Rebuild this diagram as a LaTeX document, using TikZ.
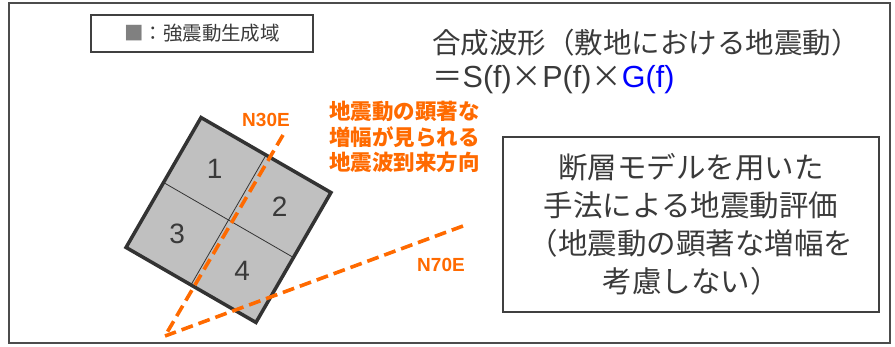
\documentclass[tikz,border=0pt]{standalone}
\usepackage{fontspec}
\setmainfont{Liberation Sans}
\newfontfamily\jpfont{Noto Sans CJK JP}
\usepackage{tikz}
\usetikzlibrary{positioning,calc}

\definecolor{quakeorange}{HTML}{FF6A00}
\definecolor{zonegray}{HTML}{C0C0C0}
\definecolor{edgegray}{HTML}{333333}
\definecolor{textgray}{HTML}{3A3A3A}

\begin{document}
\begin{tikzpicture}[x=1pt,y=-1pt]

  \tikzstyle{frame}=[draw=black!70,line width=1.6pt]
  \tikzstyle{textbox}=[draw=black!75,line width=1.4pt,inner sep=0pt]
  \tikzstyle{zone}=[draw=edgegray,fill=zonegray,line width=3.5pt,line join=miter]
  \tikzstyle{divider}=[draw=edgegray,line width=0.8pt]
  \tikzstyle{number}=[text=textgray,font=\fontsize{28}{28}\selectfont]
  \tikzstyle{direction}=[draw=quakeorange,line width=3.6pt,dash pattern=on 12pt off 6pt]
  \tikzstyle{dirlabel}=[text=quakeorange,font=\bfseries\fontsize{19}{19}\selectfont]

  \useasboundingbox (0,0) rectangle (895,347);
  \draw [frame] (9,3) rectangle (890,343);

  % legend and formula
  \node [textbox,minimum width=222pt,minimum height=37pt,text=textgray,
         font=\jpfont\fontsize{19.5}{20}\selectfont] (legend) at (202,33.5)
    {\textcolor{black!50}{■}：強震動生成域};
  \node [anchor=west,text=textgray,inner sep=0pt,
         font=\jpfont\fontsize{28.5}{30}\selectfont] (title) at (432,43)
    {合成波形（敷地における地震動）};
  \node [anchor=west,text=textgray,inner sep=0pt,
         font=\fontsize{30.5}{32}\selectfont] (formula) at (432,80)
    {{\jpfont ＝}S(f){\jpfont ×}P(f){\jpfont ×}\textcolor{blue}{G(f)}};

  % fault model
  \begin{scope}[shift={(228.5,220)},rotate=-30]
    \draw [zone] (-75,-75) rectangle (75,75);
    \draw [divider] (-75,0) -- (75,0);
    \draw [divider] (0,-75) -- (0,75);
    \node [number] (n1) at (-37.5,-37.5) {1};
    \node [number] (n2) at (37.5,-37.5)  {2};
    \node [number] (n3) at (-37.5,37.5)  {3};
    \node [number] (n4) at (37.5,37.5)   {4};
  \end{scope}

  % arrival directions
  \coordinate (site) at (165,336);
  \coordinate (n30) at (283,135);
  \coordinate (n70) at (463,226);
  \draw [direction] (n30) -- (site);
  \draw [direction] (n70) -- (site);
  \node [dirlabel] (n30label) at (266,120) {N30E};
  \node [dirlabel] (n70label) at (441,265) {N70E};
  \node [dirlabel,anchor=north west,align=left,inner sep=0pt,
         font=\jpfont\bfseries\fontsize{21.5}{25.5}\selectfont] (note) at (329,101)
    {地震動の顕著な\\増幅が見られる\\地震波到来方向};

  % method box
  \node [textbox,minimum width=376pt,minimum height=175pt,text=textgray,align=center,
         font=\jpfont\fontsize{29.5}{38}\selectfont] (method) at (691,224.5)
    {断層モデルを用いた\\手法による地震動評価\\（地震動の顕著な増幅を\\考慮しない）};

\end{tikzpicture}
\end{document}
